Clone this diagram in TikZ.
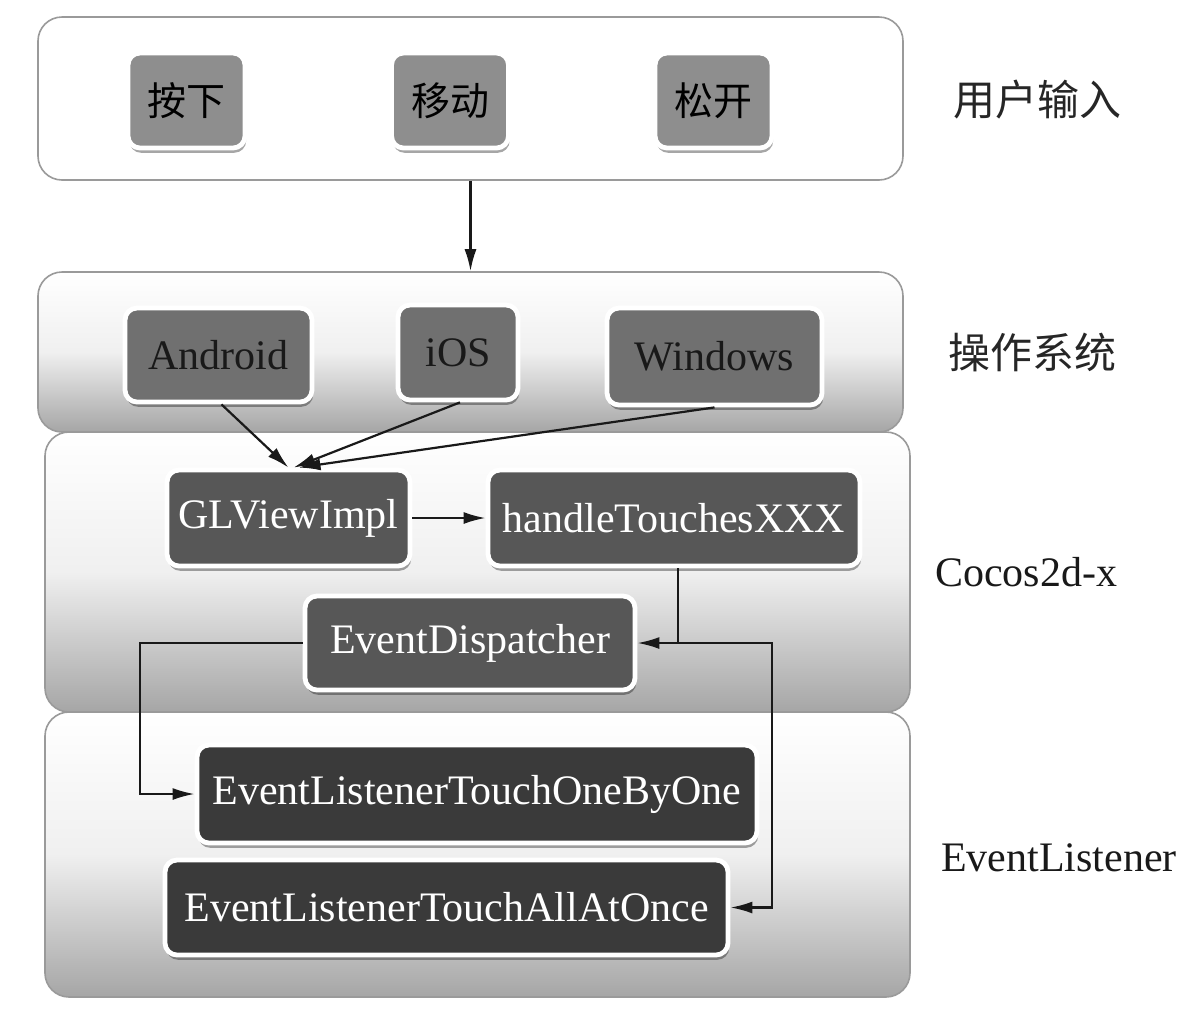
\documentclass[tikz,border=0pt]{standalone}
\usepackage{fontspec}
\setmainfont{Liberation Serif}
\newfontfamily\cjk{Noto Sans CJK SC}
\usetikzlibrary{shadows,arrows.meta}
\definecolor{lborder}{HTML}{9A9A9A}
\definecolor{topfill}{HTML}{8E8E8E}
\definecolor{osfill}{HTML}{707070}
\definecolor{ccfill}{HTML}{575757}
\definecolor{elfill}{HTML}{3A3A3A}
\tikzset{
  layer/.style={draw=lborder, line width=0.8pt, rounded corners=12pt, inner sep=0pt,
    minimum width=432.5pt},
  glayer/.style={layer, top color=white, bottom color=black!35, middle color=black!6},
  ibox/.style={draw=white, line width=2.4pt, rounded corners=6pt, inner sep=0pt,
    drop shadow={shadow xshift=0.6pt, shadow yshift=-2.4pt, fill=black, opacity=0.35},
    font=\fontsize{21}{25}\selectfont},
  topbox/.style={ibox, fill=topfill, text=black, font=\cjk\fontsize{19.5}{24}\selectfont},
  osbox/.style={ibox, fill=osfill, text=black!90},
  ccbox/.style={ibox, fill=ccfill, text=white},
  elbox/.style={ibox, fill=elfill, text=white},
  lab/.style={font=\fontsize{21}{25}\selectfont, text=black!90},
  cjklab/.style={font=\cjk\fontsize{21}{25}\selectfont, text=black!85},
  arr/.style={draw=black!90, line width=1.1pt, -{Latex[length=11pt,width=6pt]}}
}
\begin{document}
\begin{tikzpicture}[x=0.5pt,y=-0.5pt]
\useasboundingbox (0,0) rectangle (1200,1014);
\fill[white] (0,0) rectangle (1200,1014);
% layers
\node[layer, fill=white, minimum height=81.5pt] (L1) at (470.5,98.5) {};
\node[glayer, minimum height=80pt] (L2) at (470.5,352) {};
\node[glayer, minimum height=140pt] (L3) at (477.5,572) {};
\node[glayer, minimum height=142.5pt] (L4) at (477.5,854.5) {};
% user input
\node[topbox, minimum width=58.5pt, minimum height=47.5pt] (an) at (186.5,100.5) {按下};
\node[topbox, minimum width=58.5pt, minimum height=47.5pt] (yd) at (450,100.5) {移动};
\node[topbox, minimum width=58.5pt, minimum height=47.5pt] (sk) at (713.5,100.5) {松开};
% OS
\node[osbox, minimum width=93.5pt, minimum height=47pt] (and) at (218.5,355) {Android};
\node[osbox, minimum width=60pt, minimum height=47.5pt] (ios) at (458,352.5) {iOS};
\node[osbox, minimum width=107.5pt, minimum height=48.5pt] (win) at (714.5,356.5) {Windows};
% cocos
\node[ccbox, minimum width=121.5pt, minimum height=48pt] (gl) at (288.5,518) {GLViewImpl};
\node[ccbox, minimum width=186pt, minimum height=48pt] (ht) at (674,518) {handleTouchesXXX};
\node[ccbox, minimum width=165pt, minimum height=47pt] (ed) at (470,643) {EventDispatcher};
% listeners
\node[elbox, minimum width=280pt, minimum height=49pt] (one) at (477,794) {EventListenerTouchOneByOne};
\node[elbox, minimum width=281.5pt, minimum height=47.5pt] (all) at (446.5,907.5) {EventListenerTouchAllAtOnce};
% labels
\node[cjklab] (t1) at (1037,100) {用户输入};
\node[cjklab] (t2) at (1032,352) {操作系统};
\node[lab] (t3) at (1026,572) {Cocos2d-x};
\node[lab] (t4) at (1059,858) {EventListener};
% connectors
\coordinate (J) at (678,643);
\coordinate (K) at (772,643);
\coordinate (M) at (140,643);
\draw[arr] (L1) -- (L2);
\draw[arr] ([xshift=1.5pt]and.south) -- ([xshift=0pt]gl.north);
\draw[arr] ([xshift=1pt]ios.south) -- ([xshift=2.5pt]gl.north);
\draw[arr] (win.south) -- ([xshift=5pt]gl.north);
\draw[arr] (gl.east) -- (ht.west);
\draw[arr] ([xshift=2pt]ht.south) |- (ed.east);
\draw[arr] (J) -- (K) |- (all.east);
\draw[arr] (ed.west) -- (M) |- (one.west);
\end{tikzpicture}
\end{document}
